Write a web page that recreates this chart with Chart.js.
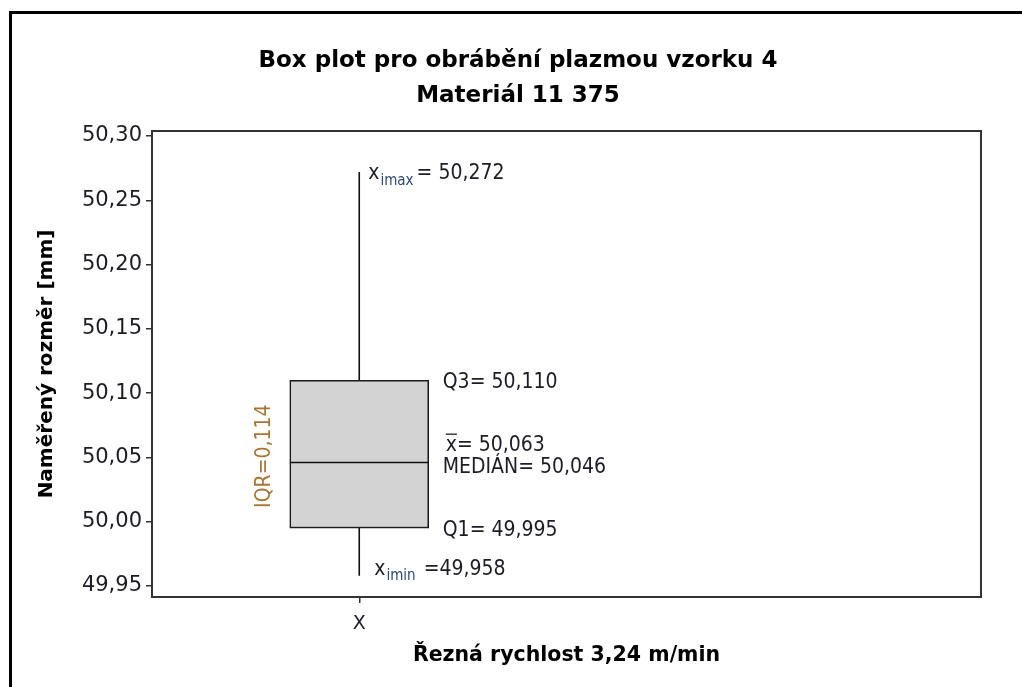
<!DOCTYPE html>
<html>
<head>
<meta charset="utf-8">
<script src="https://cdn.jsdelivr.net/npm/chart.js@4/dist/chart.umd.min.js"></script>
<style>
  html, body { margin: 0; padding: 0; background: #ffffff; }
  #wrap { position: relative; width: 1022px; height: 687px; overflow: hidden; }
  #frame {
    position: absolute; left: 9px; top: 11px; width: 1100px; height: 800px;
    border-top: 3px solid #000; border-left: 3px solid #000; pointer-events: none;
  }
  canvas { position: absolute; left: 0; top: 0; }
</style>
</head>
<body>
<div id="wrap">
  <canvas id="chart" width="1022" height="687"></canvas>
  <div id="frame"></div>
</div>
<script>
// Sample: plasma cutting, specimen 4, material 11 375
const categories = ['X'];
const categoryPositions = [1];
const minValues = [49.958];
const q1Values = [49.995];
const medianValues = [50.046];
const meanValues = [50.063];
const q3Values = [50.110];
const maxValues = [50.272];
const iqrValues = [0.114];
const yTickValues = [49.95, 50.00, 50.05, 50.10, 50.15, 50.20, 50.25, 50.30];

const titleLines = ['Box plot pro obrábění plazmou vzorku 4', 'Materiál 11 375'];
const yAxisTitle = 'Naměřený rozměr [mm]';
const xAxisTitle = 'Řezná rychlost 3,24 m/min';

const fmt = (v, d) => v.toFixed(d).replace('.', ',');

const TEXT = '#1c1c24';
const AXIS = '#333333';
const ANN_FONT = '"DejaVu Sans Condensed", "DejaVu Sans", sans-serif';
const BOLD_FONT = '"DejaVu Sans", sans-serif';

// box + whiskers for each category
const boxData = categoryPositions.map((x, i) => ({ x, y: [q1Values[i], q3Values[i]] }));
const upperWhisker = categoryPositions.map((x, i) => [{ x, y: q3Values[i] }, { x, y: maxValues[i] }]);
const lowerWhisker = categoryPositions.map((x, i) => [{ x, y: q1Values[i] }, { x, y: minValues[i] }]);

const whiskerStyle = {
  type: 'line', borderColor: '#111', borderWidth: 1.6, pointRadius: 0,
  fill: false, tension: 0
};

// plot frame, median line and the value labels next to the box
const boxAnnotations = {
  id: 'boxAnnotations',
  afterDatasetsDraw(chart) {
    const { ctx, chartArea: a, scales: { y } } = chart;
    const bars = chart.getDatasetMeta(0).data;
    ctx.save();

    bars.forEach((bar, i) => {
      const left = bar.x - bar.width / 2;
      const right = bar.x + bar.width / 2;
      const yMed = y.getPixelForValue(medianValues[i]);
      const yQ1 = y.getPixelForValue(q1Values[i]);
      const yQ3 = y.getPixelForValue(q3Values[i]);
      const yMean = y.getPixelForValue(meanValues[i]);
      const yMax = y.getPixelForValue(maxValues[i]);
      const yMin = y.getPixelForValue(minValues[i]);

      // median
      ctx.strokeStyle = '#111';
      ctx.lineWidth = 1.6;
      ctx.beginPath();
      ctx.moveTo(left, yMed);
      ctx.lineTo(right, yMed);
      ctx.stroke();

      ctx.textBaseline = 'alphabetic';
      ctx.textAlign = 'left';
      ctx.fillStyle = TEXT;
      const big = '21px ' + ANN_FONT;
      const sub = '15px ' + ANN_FONT;

      const tx = right + 14;
      ctx.font = big;
      ctx.fillText('Q3= ' + fmt(q3Values[i], 3), tx, yQ3 + 8);
      ctx.fillText('MEDIÁN= ' + fmt(medianValues[i], 3), tx, yMed + 10.5);
      ctx.fillText('Q1= ' + fmt(q1Values[i], 3), tx, yQ1 + 7.5);

      // mean with overbar
      const mx = tx + 3;
      const mb = yMean + 10;
      ctx.fillText('x', mx, mb);
      const xw = ctx.measureText('x').width;
      ctx.lineWidth = 1.3;
      ctx.strokeStyle = TEXT;
      ctx.beginPath();
      ctx.moveTo(mx, mb - 16.5);
      ctx.lineTo(mx + xw, mb - 16.5);
      ctx.stroke();
      ctx.fillText('= ' + fmt(meanValues[i], 3), mx + xw, mb);

      // maximum
      let sx = bar.x + 9;
      let sb = yMax + 7;
      ctx.font = big;
      ctx.fillText('x', sx, sb);
      sx += ctx.measureText('x').width + 1;
      ctx.font = sub;
      ctx.fillStyle = '#2f4a78';
      ctx.fillText('imax', sx, sb + 6);
      sx += ctx.measureText('imax').width + 3;
      ctx.font = big;
      ctx.fillStyle = TEXT;
      ctx.fillText('= ' + fmt(maxValues[i], 3), sx, sb);

      // minimum
      sx = bar.x + 15;
      sb = yMin - 1;
      ctx.fillText('x', sx, sb);
      sx += ctx.measureText('x').width + 1;
      ctx.font = sub;
      ctx.fillStyle = '#2f4a78';
      ctx.fillText('imin', sx, sb + 5);
      sx += ctx.measureText('imin').width + 8;
      ctx.font = big;
      ctx.fillStyle = TEXT;
      ctx.fillText('=' + fmt(minValues[i], 3), sx, sb);

      // interquartile range, rotated beside the box
      ctx.save();
      ctx.translate(left - 25, (yQ1 + yQ3) / 2 + 2);
      ctx.rotate(-Math.PI / 2);
      ctx.textAlign = 'center';
      ctx.textBaseline = 'middle';
      ctx.fillStyle = '#a87634';
      ctx.font = big;
      ctx.fillText('IQR=' + fmt(iqrValues[i], 3), 0, 0);
      ctx.restore();
    });

    // frame round the plot area
    ctx.strokeStyle = AXIS;
    ctx.lineWidth = 2;
    ctx.strokeRect(a.left, a.top, a.right - a.left, a.bottom - a.top);
    ctx.restore();
  }
};

new Chart(document.getElementById('chart'), {
  data: {
    datasets: [
      {
        type: 'bar', data: boxData, backgroundColor: '#d3d3d3',
        borderColor: '#1a1a1a', borderWidth: 1.6, borderSkipped: false,
        barThickness: 139
      },
      ...upperWhisker.map(d => ({ ...whiskerStyle, data: d })),
      ...lowerWhisker.map(d => ({ ...whiskerStyle, data: d }))
    ]
  },
  options: {
    responsive: false,
    animation: false,
    devicePixelRatio: 1,
    layout: { padding: { left: 55, right: 41, top: 0, bottom: 0 } },
    plugins: {
      legend: { display: false },
      tooltip: { enabled: false },
      title: {
        display: true, text: titleLines, color: '#000',
        font: { family: BOLD_FONT, size: 23, weight: 'bold', lineHeight: 35 / 23 },
        padding: { top: 44, bottom: 17 }
      }
    },
    scales: {
      x: {
        type: 'linear', min: 0, max: 4, offset: false,
        afterBuildTicks: s => { s.ticks = categoryPositions.map(v => ({ value: v })); },
        afterFit: s => { s.height = 90; },
        ticks: {
          color: TEXT, padding: 10,
          font: { family: '"DejaVu Sans", sans-serif', size: 19 },
          callback: v => categories[categoryPositions.indexOf(v)] ?? ''
        },
        grid: { display: true, offset: false, drawOnChartArea: false, drawTicks: true, tickLength: 6, color: AXIS, lineWidth: 1.5 },
        border: { display: true, color: AXIS, width: 2 },
        title: {
          display: true, text: xAxisTitle, color: '#000',
          font: { family: BOLD_FONT, size: 20.5, weight: 'bold', lineHeight: 1.2 },
          padding: { top: 0, bottom: 19 }
        }
      },
      y: {
        type: 'linear', min: 49.9414, max: 50.3039,
        afterBuildTicks: s => { s.ticks = yTickValues.map(v => ({ value: v })); },
        afterFit: s => { s.width = 97; },
        ticks: {
          color: TEXT, padding: 4,
          font: { family: '"DejaVu Sans", sans-serif', size: 21 },
          callback: v => fmt(v, 2)
        },
        grid: { display: true, drawOnChartArea: false, drawTicks: true, tickLength: 6, color: AXIS, lineWidth: 1.5 },
        border: { display: true, color: AXIS, width: 2 },
        title: {
          display: true, text: yAxisTitle, color: '#000',
          font: { family: BOLD_FONT, size: 20, weight: 'bold', lineHeight: 1.2 },
          padding: { top: -20, bottom: 0 }
        }
      }
    }
  },
  plugins: [boxAnnotations]
});
</script>
</body>
</html>
